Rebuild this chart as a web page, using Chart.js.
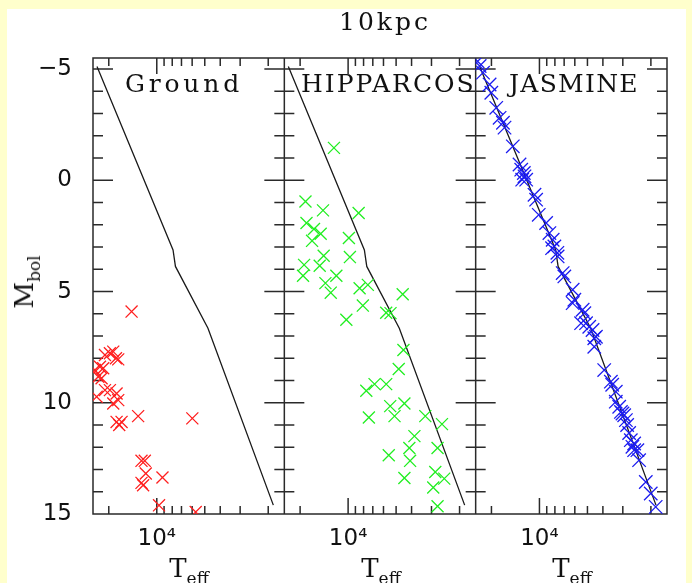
<!DOCTYPE html>
<html>
<head>
<meta charset="utf-8">
<title>10kpc</title>
<script src="https://cdn.jsdelivr.net/npm/chart.js@4.4.0/dist/chart.umd.min.js"></script>
<style>
  html, body { margin: 0; padding: 0; }
  body { width: 692px; height: 583px; background: #ffffcc; position: relative; overflow: hidden; }
  #sheet { position: absolute; left: 7px; top: 9px; width: 679px; height: 574px; background: #fff; }
  #plot { position: absolute; left: 0; top: 0; }
  .lbl { position: absolute; font-family: 'DejaVu Serif', serif; color: #111; white-space: nowrap; line-height: 1; }
  .lbl sub { font-size: 17px; vertical-align: -7px; }
  #title { left: 385px; top: 9px; font-size: 25px; letter-spacing: 3px; transform: translateX(-50%); }
  .panel { top: 71px; font-size: 25px; }
  .teff { top: 555px; font-size: 26px; transform: translateX(-50%); }
  #mbol { left: 27px; top: 282px; font-size: 26px; transform: translate(-50%, -50%) rotate(-90deg); }
</style>
</head>
<body>
  <div id="sheet"></div>
  <canvas id="plot" width="692" height="583"></canvas>
  <div class="lbl" id="title">10kpc</div>
  <div class="lbl panel" style="left:125px; letter-spacing:3.8px">Ground</div>
  <div class="lbl panel" style="left:301px; letter-spacing:2px">HIPPARCOS</div>
  <div class="lbl panel" style="left:509px; letter-spacing:1.3px">JASMINE</div>
  <div class="lbl teff" style="left:189px">T<sub>eff</sub></div>
  <div class="lbl teff" style="left:381px">T<sub>eff</sub></div>
  <div class="lbl teff" style="left:572px">T<sub>eff</sub></div>
  <div class="lbl" id="mbol">M<sub>bol</sub></div>

  <script>
    // tick values
    const tempTicks = [2000, 3000, 4000, 5000, 6000, 7000, 8000, 9000, 10000, 20000];
    const magTicks = [-5, -4, -3, -2, -1, 0, 1, 2, 3, 4, 5, 6, 7, 8, 9, 10, 11, 12, 13, 14, 15];

    // reference line (same in every panel)
    const lineTeff = [23710, 7907, 7638, 4775, 1858];
    const lineMbol = [-5.12, 3.13, 3.87, 6.65, 14.6];

    // Ground
    const groundTeff = [14390, 21130, 19680, 18750, 18030, 17450, 21680, 24420, 22710, 23280,
      22190, 23820, 21130, 19680, 17870, 18750, 17450, 17870, 16630, 17200,
      13090, 5985, 12470, 11890, 11720, 12470, 12180, 9210, 9680, 5700];
    const groundMbol = [5.90, 7.85, 7.77, 7.70, 8.00, 8.05, 8.45, 8.53, 8.38, 8.83,
      8.90, 9.73, 9.43, 9.43, 9.58, 10.03, 9.88, 10.86, 10.86, 11.00,
      10.60, 10.70, 12.61, 12.61, 13.18, 13.60, 13.71, 13.36, 14.61, 14.91];

    // HIPPARCOS
    const hippTeff = [12270, 18510, 14370, 8590, 18240, 16370, 14860, 16830, 9885, 14230,
      9745, 18880, 15070, 19170, 11850, 13880, 12850, 8470, 7520, 4546,
      8084, 5770, 5420, 10260, 4498, 4814, 7690, 6825, 5770, 5445,
      4436, 7410, 5115, 3280, 2578, 3838, 4130, 2748, 5560, 4085,
      4436, 2840, 2495, 2925, 2748];
    const hippMbol = [-1.46, 0.95, 1.35, 1.47, 1.92, 2.19, 2.40, 2.72, 2.59, 3.39,
      3.45, 3.80, 3.84, 4.29, 4.29, 4.62, 5.05, 4.85, 4.70, 5.12,
      5.63, 5.95, 5.97, 6.27, 7.63, 8.48, 9.46, 9.16, 9.16, 10.15,
      10.03, 10.66, 10.60, 10.60, 10.96, 11.50, 12.03, 12.03, 12.36, 12.61,
      13.38, 13.11, 13.41, 13.81, 14.65];

    // JASMINE
    const jasTeff = [24420, 23710, 22590, 20540, 20040, 18660, 17780, 16940, 16560, 14690,
      13335, 13010, 12410, 12110, 12830, 12530, 10740, 10490, 10100, 9080,
      8660, 8260, 8060, 8335, 7720, 7690, 7150, 6980, 6190, 6040,
      6190, 5360, 5230, 5100, 5480, 4870, 4645, 4425, 4530, 4530,
      3925, 3565, 3498, 3320, 3320, 3160, 3015, 3083, 2941, 2870,
      2818, 2738, 2673, 2612, 2547, 2547, 2431, 2371, 2153, 2004, 1866];
    const jasMbol = [-5.35, -5.14, -4.84, -4.31, -3.94, -3.26, -2.81, -2.59, -2.37, -1.53,
      -0.71, -0.48, -0.18, -0.03, -0.03, -0.33, 0.65, 0.87, 1.55, 1.92,
      2.37, 2.67, 2.97, 3.05, 3.26, 3.42, 4.17, 4.32, 4.92, 5.37,
      5.52, 5.82, 5.97, 6.42, 6.42, 6.58, 6.73, 7.03, 7.48, 7.10,
      8.53, 9.05, 9.19, 9.50, 9.95, 10.18, 10.48, 10.41, 10.56, 10.78,
      11.00, 11.36, 11.68, 11.98, 12.13, 11.83, 12.13, 12.58, 13.56, 14.08, 14.68];

    const pairs = (xs, ys) => xs.map((x, i) => ({x: x, y: ys[i]}));

    const panels = [
      {id: 'x1', teff: groundTeff, mbol: groundMbol, color: '#ff1f1f', size: 8.5},
      {id: 'x2', teff: hippTeff, mbol: hippMbol, color: '#22ee22', size: 8.5},
      {id: 'x3', teff: jasTeff, mbol: jasMbol, color: '#1c1cf0', size: 9.5},
    ];

    const tickFont = {family: 'DejaVu Sans', size: 23};

    function makeX(){
      return {
        type: 'logarithmic', reverse: true,
        min: Math.pow(10, 3.2), max: Math.pow(10, 4.4),
        position: 'bottom', stack: 'teff', stackWeight: 1,
        grid: {display: false, drawTicks: false}, border: {display: false},
        ticks: {autoSkip: false, maxRotation: 0, padding: 11, color: '#111', font: tickFont,
                callback: v => v === 10000 ? '10\u2074' : ''},
        afterBuildTicks: s => { s.ticks = tempTicks.map(v => ({value: v})); },
        afterFit: s => { s.height = 69; }
      };
    }

    // frame with inward ticks on all four sides of each panel
    const frame = {
      id: 'frame',
      beforeDatasetsDraw(chart){
        const ctx = chart.ctx, ys = chart.scales.y;
        const top = chart.chartArea.top, bottom = chart.chartArea.bottom;
        const seg = (x1, y1, x2, y2) => { ctx.moveTo(x1, y1); ctx.lineTo(x2, y2); };
        ctx.save();
        ctx.strokeStyle = '#2a2a2a';
        ctx.lineWidth = 1.5;
        ctx.beginPath();
        panels.forEach(p => {
          const s = chart.scales[p.id];
          ctx.rect(s.left, top, s.right - s.left, bottom - top);
          ys.ticks.forEach(t => {
            const py = ys.getPixelForValue(t.value);
            const len = t.value % 5 === 0 ? 20 : 10;
            seg(s.left, py, s.left + len, py);
            seg(s.right, py, s.right - len, py);
          });
          s.ticks.forEach(t => {
            const px = s.getPixelForValue(t.value);
            const len = t.value === 10000 ? 16 : 8;
            seg(px, bottom, px, bottom - len);
            seg(px, top, px, top + len);
          });
        });
        ctx.stroke();
        ctx.restore();
      }
    };

    const scales = {
      y: {
        type: 'linear', reverse: true, min: -5.5, max: 15, position: 'left',
        grid: {display: false, drawTicks: false}, border: {display: false},
        ticks: {autoSkip: false, padding: 21, color: '#111', font: tickFont,
                callback: v => v % 5 === 0 ? (v < 0 ? '\u2212' + Math.abs(v) : String(v)) : ''},
        afterBuildTicks: s => { s.ticks = magTicks.map(v => ({value: v})); },
        afterFit: s => { s.width = 93; }
      }
    };
    panels.forEach(p => { scales[p.id] = makeX(); });

    const datasets = [];
    panels.forEach(p => {
      datasets.push({
        data: pairs(lineTeff, lineMbol), xAxisID: p.id, yAxisID: 'y',
        showLine: true, borderColor: '#1a1a1a', borderWidth: 1.3, pointRadius: 0, order: 2
      });
      datasets.push({
        data: pairs(p.teff, p.mbol), xAxisID: p.id, yAxisID: 'y',
        pointStyle: 'crossRot', pointRadius: p.size, borderWidth: 1.3,
        borderColor: p.color, backgroundColor: p.color, order: 1
      });
    });

    new Chart(document.getElementById('plot'), {
      type: 'scatter',
      data: {datasets},
      options: {
        responsive: false,
        animation: false,
        events: [],
        layout: {padding: {left: 0, top: 58, right: 25, bottom: 0}},
        scales,
        plugins: {legend: {display: false}, tooltip: {enabled: false}}
      },
      plugins: [frame]
    });
  </script>
</body>
</html>
